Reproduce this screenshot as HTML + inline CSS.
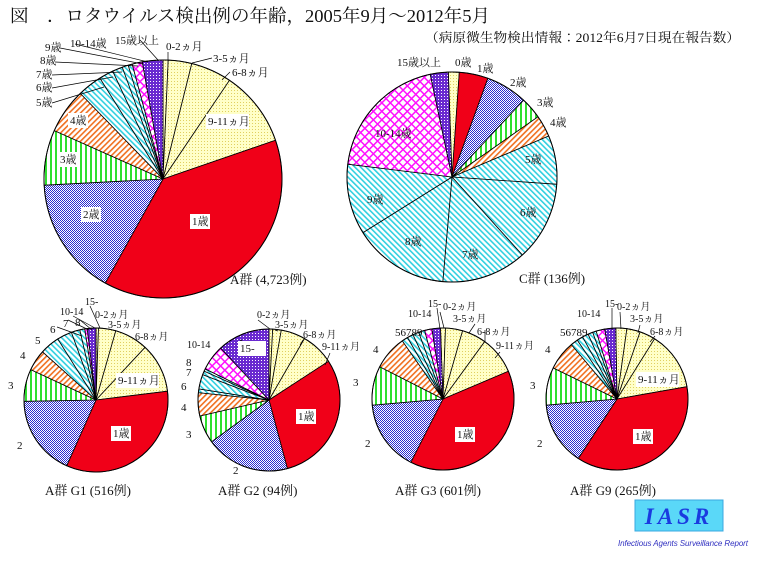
<!DOCTYPE html>
<html><head><meta charset="utf-8"><style>
html,body{margin:0;padding:0;background:#fff;}
svg text{font-family:"Liberation Serif","Noto Serif CJK JP","Noto Sans CJK JP",serif;fill:#111;}
</style></head><body>
<svg id="s" width="783" height="559" viewBox="0 0 783 559" xmlns="http://www.w3.org/2000/svg">
<defs>
<pattern id="pY" width="3" height="3" patternUnits="userSpaceOnUse"><rect width="3" height="3" fill="#ffffc8"/><rect width="1" height="1" fill="#e0d060"/></pattern>
<pattern id="pB" width="2" height="2" patternUnits="userSpaceOnUse"><rect width="2" height="2" fill="#fff"/><rect width="1" height="1" fill="#2a2ad0"/><rect x="1" y="1" width="1" height="1" fill="#2a2ad0"/></pattern>
<pattern id="pG" width="5" height="5" patternUnits="userSpaceOnUse"><rect width="5" height="5" fill="#fff"/><rect width="2" height="5" fill="#2ee02e"/></pattern>
<pattern id="pO" width="4" height="4" patternUnits="userSpaceOnUse" patternTransform="rotate(45)"><rect width="4" height="4" fill="#fff"/><rect width="1.6" height="4" fill="#f07020"/></pattern>
<pattern id="pC" width="4" height="4" patternUnits="userSpaceOnUse" patternTransform="rotate(-45)"><rect width="4" height="4" fill="#fff"/><rect width="1.6" height="4" fill="#30d0e0"/></pattern>
<pattern id="pM" width="6" height="6" patternUnits="userSpaceOnUse" patternTransform="rotate(45)"><rect width="6" height="6" fill="#fff"/><rect width="1.5" height="6" fill="#ff10ff"/><rect width="6" height="1.5" fill="#ff10ff"/></pattern>
<pattern id="pP" width="3" height="3" patternUnits="userSpaceOnUse"><rect width="3" height="3" fill="#6a2ad0"/><rect width="1" height="1" fill="#fff"/></pattern>
</defs>
<g id="pies"></g>
<text x="10" y="22" font-size="18" textLength="480" lengthAdjust="spacingAndGlyphs">図　．ロタウイルス検出例の年齢，2005年9月〜2012年5月</text>
<text x="425" y="42" font-size="13" textLength="315" lengthAdjust="spacingAndGlyphs">（病原微生物検出情報：2012年6月7日現在報告数）</text>
<g font-size="11" id="lab">
<text x="166" y="50">0-2ヵ月</text><text x="213" y="62">3-5ヵ月</text><text x="232" y="76">6-8ヵ月</text>
<text x="115" y="44">15歳以上</text><text x="70" y="47">10-14歳</text><text x="45" y="51">9歳</text>
<text x="40" y="64">8歳</text><text x="36" y="78">7歳</text><text x="36" y="91">6歳</text><text x="36" y="106">5歳</text>
<text x="230" y="284" font-size="13">A群 (4,723例)</text>
<text x="519" y="283" font-size="13">C群 (136例)</text>
<text x="397" y="66">15歳以上</text><text x="455" y="66">0歳</text><text x="477" y="72">1歳</text><text x="510" y="86">2歳</text><text x="537" y="106">3歳</text><text x="550" y="126">4歳</text>
<text x="525" y="163">5歳</text><text x="520" y="216">6歳</text><text x="462" y="258">7歳</text><text x="405" y="245">8歳</text><text x="367" y="203">9歳</text><text x="375" y="137">10-14歳</text>
<text x="85" y="305" font-size="10">15-</text><text x="60" y="315" font-size="10">10-14</text><text x="63" y="327">7</text><text x="75" y="326">8</text><text x="50" y="333">6</text><text x="35" y="344">5</text><text x="20" y="359">4</text><text x="8" y="389">3</text><text x="17" y="449">2</text>
<text x="95" y="318" font-size="10">0-2ヵ月</text><text x="108" y="328" font-size="10">3-5ヵ月</text><text x="135" y="340" font-size="10">6-8ヵ月</text>
<text x="45" y="495" font-size="13">A群 G1 (516例)</text>
<text x="257" y="318" font-size="10">0-2ヵ月</text><text x="275" y="328" font-size="10">3-5ヵ月</text><text x="303" y="338" font-size="10">6-8ヵ月</text><text x="322" y="350" font-size="10">9-11ヵ月</text>
<text x="187" y="348" font-size="10">10-14</text><text x="186" y="366">8</text><text x="186" y="376">7</text><text x="181" y="390">6</text><text x="181" y="411">4</text><text x="186" y="438">3</text><text x="233" y="474">2</text>
<text x="218" y="495" font-size="13">A群 G2 (94例)</text>
<text x="428" y="307" font-size="10">15-</text><text x="408" y="317" font-size="10">10-14</text><text x="395" y="336">56789</text><text x="373" y="353">4</text><text x="353" y="386">3</text><text x="365" y="447">2</text>
<text x="443" y="310" font-size="10">0-2ヵ月</text><text x="453" y="322" font-size="10">3-5ヵ月</text><text x="477" y="335" font-size="10">6-8ヵ月</text><text x="496" y="349" font-size="10">9-11ヵ月</text>
<text x="395" y="495" font-size="13">A群 G3 (601例)</text>
<text x="605" y="307" font-size="10">15-</text><text x="577" y="317" font-size="10">10-14</text><text x="560" y="336">56789</text><text x="545" y="353">4</text><text x="530" y="389">3</text><text x="537" y="447">2</text>
<text x="617" y="310" font-size="10">0-2ヵ月</text><text x="630" y="322" font-size="10">3-5ヵ月</text><text x="650" y="335" font-size="10">6-8ヵ月</text>
<text x="570" y="495" font-size="13">A群 G9 (265例)</text>
</g>
<g id="boxes" font-size="11"></g>
<rect x="635" y="500" width="88" height="31" fill="#5ad8f8" stroke="#3aa8e0"/>
<text x="679" y="524" text-anchor="middle" font-size="23" font-weight="bold" font-style="italic" style="fill:#1a3ae0" letter-spacing="4">IASR</text>
<text x="683" y="546" text-anchor="middle" font-size="8" font-style="italic" style="fill:#3030c0;font-family:'Liberation Sans',sans-serif" textLength="130">Infectious Agents Surveillance Report</text>
</svg>
<script>
const F={m:'url(#pY)',r:'#f00018',b:'url(#pB)',g:'url(#pG)',o:'url(#pO)',c:'url(#pC)',x:'url(#pM)',p:'url(#pP)'};
function pt(cx,cy,r,a){a=a*Math.PI/180;return [cx+r*Math.sin(a),cy-r*Math.cos(a)];}
let out='';
function pie(cx,cy,r,sl){
  sl.forEach(s=>{const [a0,a1,f]=s;const p0=pt(cx,cy,r,a0),p1=pt(cx,cy,r,a1);
    out+=`<path d="M${cx},${cy}L${p0[0].toFixed(1)},${p0[1].toFixed(1)}A${r},${r} 0 ${a1-a0>180?1:0} 1 ${p1[0].toFixed(1)},${p1[1].toFixed(1)}Z" fill="${F[f]}" stroke="#000" stroke-width="0.8"/>`;});
  out+=`<circle cx="${cx}" cy="${cy}" r="${r}" fill="none" stroke="#000" stroke-width="1"/>`;
}
pie(163,179,119,[[0,2.5,'m'],[2.5,14,'m'],[14,34,'m'],[34,71,'m'],[71,209,'r'],[209,267,'b'],[267,294,'g'],[294,316,'o'],[316,328,'c'],[328,335,'c'],[335,340,'c'],[340,343,'c'],[343,345,'c'],[345,350,'x'],[350,360,'p']]);
pie(452,177,105,[[-2,4,'m'],[4,20,'r'],[20,43,'b'],[43,55,'g'],[55,67,'o'],[67,94,'c'],[94,138,'c'],[138,185,'c'],[185,238,'c'],[238,277,'c'],[277,348,'x'],[348,358,'p']]);
pie(96,400,72,[[0,2,'m'],[2,16,'m'],[16,43,'m'],[43,83,'m'],[83,204,'r'],[204,269,'b'],[269,295,'g'],[295,312,'o'],[312,328,'c'],[328,340,'c'],[340,347,'c'],[347,351,'c'],[351,353,'x'],[353,360,'p']]);
pie(269,400,71,[[0,3,'m'],[3,10,'m'],[10,30,'m'],[30,57,'m'],[57,165,'r'],[165,234,'b'],[234,257,'g'],[257,276,'o'],[276,279,'c'],[279,291,'c'],[291,294,'c'],[294,296,'c'],[296,317,'x'],[317,360,'p']]);
pie(443,399,71,[[-2,2,'m'],[2,16,'m'],[16,36,'m'],[36,67,'m'],[67,207,'r'],[207,265,'b'],[265,297,'g'],[297,325,'o'],[325,330,'c'],[330,335,'c'],[335,340,'c'],[340,345,'c'],[345,351,'x'],[351,358,'p']]);
pie(617,399,71,[[-1,8,'m'],[8,19,'m'],[19,32,'m'],[32,80,'m'],[80,213,'r'],[213,265,'b'],[265,296,'g'],[296,320,'o'],[320,326,'c'],[326,331,'c'],[331,336,'c'],[336,340,'c'],[340,343,'c'],[343,350,'x'],[350,359,'p']]);
const L=[[75,44,148,62],[60,48,143,64],[55,62,138,66],[52,75,122,72],[52,88,113,77],[52,103,104,87],[140,40,158,60],[168,52,168,60],[212,58,192,63],[230,72,222,80],
[90,306,100,328],[73,316,95,328],[68,320,89,330],[80,320,92,330],[57,327,82,336],[240,340,250,345],[258,320,270,329],[275,330,278,331],[303,340,300,345],[330,353,325,365],
[437,308,440,329],[440,312,444,328],[475,324,469,333],[485,330,485,342],[500,352,495,358],[612,308,612,330],[620,312,621,329],[640,325,638,333],[655,336,650,342]];
L.forEach(l=>out+=`<line x1="${l[0]}" y1="${l[1]}" x2="${l[2]}" y2="${l[3]}" stroke="#000" stroke-width="0.7"/>`);
document.getElementById('pies').innerHTML=out;
const B=[[208,125,'9-11ヵ月'],[192,225,'1歳'],[83,218,'2歳'],[60,163,'3歳'],[70,124,'4歳'],[113,437,'1歳'],[118,384,'9-11ヵ月'],[298,420,'1歳'],[240,352,'15-'],[457,438,'1歳'],[635,440,'1歳'],[638,383,'9-11ヵ月']];
let bo='';
B.forEach(b=>{const w=b[2].length*(b[2].length>3?6.5:8)+4;bo+=`<rect x="${b[0]-2}" y="${b[1]-11}" width="${w}" height="15" fill="#fff"/><text x="${b[0]}" y="${b[1]}">${b[2]}</text>`;});
document.getElementById('boxes').innerHTML=bo;
</script>
</body></html>
